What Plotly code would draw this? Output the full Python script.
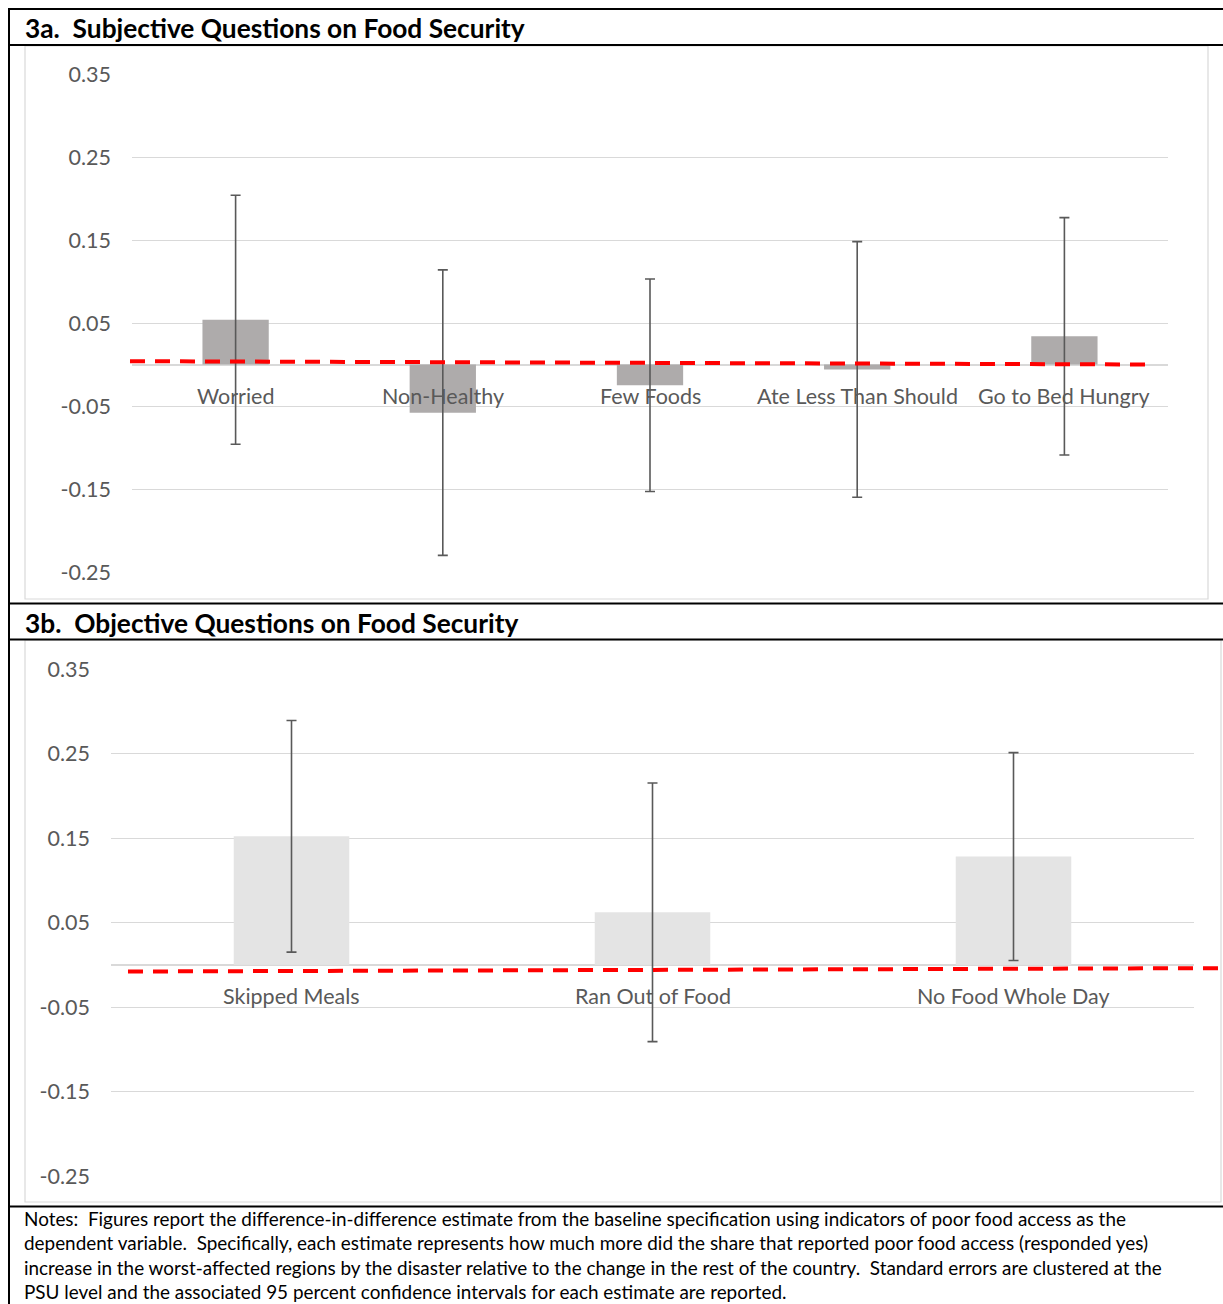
import plotly.graph_objects as go

W, H = 1223, 1304

# ---------------- data ----------------
cats_a = ["Worried", "Non-Healthy", "Few Foods", "Ate Less Than Should", "Go to Bed Hungry"]
est_a = [0.054, -0.058, -0.025, -0.006, 0.034]
ci_a = [0.150, 0.172, 0.128, 0.154, 0.143]

cats_b = ["Skipped Meals", "Ran Out of Food", "No Food Whole Day"]
est_b = [0.152, 0.062, 0.128]
ci_b = [0.137, 0.153, 0.123]

y_ticks = [-0.25, -0.15, -0.05, 0.05, 0.15, 0.25, 0.35]
y_ticktext = ["-0.25", "-0.15", "-0.05", "0.05", "0.15", "0.25", "0.35"]
y_range = [-0.25, 0.35]

# red dashed reference line (start/end values on the y scale)
ref_a = [0.004, 0.0]
ref_b = [-0.008, -0.004]

title_a = "3a.  Subjective Questions on Food Security"
title_b = "3b.  Objective Questions on Food Security"
notes_lines = [
    "Notes:  Figures report the difference-in-difference estimate from the baseline specification using indicators of poor food access as the",
    "dependent variable.  Specifically, each estimate represents how much more did the share that reported poor food access (responded yes)",
    "increase in the worst-affected regions by the disaster relative to the change in the rest of the country.  Standard errors are clustered at the",
    "PSU level and the associated 95 percent confidence intervals for each estimate are reported.",
]

# ---------------- helpers ----------------
def px(x):
    return x / W


def py(y):
    return 1 - y / H


FONT = "Lato"
GREY_TXT = "#595959"
GRID = "#D9D9D9"

# plot areas in pixels (left, right, top, bottom)
PA = (132, 1168, 74, 572)
PB = (111, 1194, 669, 1176)

fig = go.Figure()

fig.add_trace(go.Bar(
    x=cats_a, y=est_a, width=0.32,
    marker=dict(color="#AEABAB", line=dict(width=0)),
    error_y=dict(type="data", array=ci_a, visible=True, color="#595959", thickness=1.6, width=5),
    xaxis="x", yaxis="y", showlegend=False, hoverinfo="skip",
))
fig.add_trace(go.Bar(
    x=cats_b, y=est_b, width=0.32,
    marker=dict(color="#E4E4E4", line=dict(width=0)),
    error_y=dict(type="data", array=ci_b, visible=True, color="#595959", thickness=1.6, width=5),
    xaxis="x2", yaxis="y2", showlegend=False, hoverinfo="skip",
))

yaxis_common = dict(
    range=y_range, tickvals=y_ticks, ticktext=y_ticktext,
    showgrid=True, gridcolor=GRID, gridwidth=1.4,
    zeroline=True, zerolinecolor=GRID, zerolinewidth=1.6,
    showline=False, ticks="", ticklabelstandoff=20, automargin=False,
    tickfont=dict(family=FONT, size=21.5, color=GREY_TXT), fixedrange=True,
)
xaxis_common = dict(showticklabels=False, showgrid=False, zeroline=False, showline=False, ticks="",
                    automargin=False, fixedrange=True)

fig.update_layout(
    width=W, height=H,
    margin=dict(l=0, r=0, t=0, b=0, autoexpand=False),
    paper_bgcolor="white", plot_bgcolor="white",
    bargap=0.68,
    xaxis=dict(domain=[px(PA[0]), px(PA[1])], anchor="y", range=[-0.5, len(cats_a) - 0.5], **xaxis_common),
    yaxis=dict(domain=[py(PA[3]), py(PA[2])], anchor="x", **yaxis_common),
    xaxis2=dict(domain=[px(PB[0]), px(PB[1])], anchor="y2", range=[-0.5, len(cats_b) - 0.5], **xaxis_common),
    yaxis2=dict(domain=[py(PB[3]), py(PB[2])], anchor="x2", **yaxis_common),
)

annotations = []
# category labels just below the zero line
for c in cats_a:
    annotations.append(dict(x=c, y=0, xref="x", yref="y", text=c, showarrow=False,
                            yanchor="middle", yshift=-31,
                            font=dict(family=FONT, size=21.5, color=GREY_TXT)))
for c in cats_b:
    annotations.append(dict(x=c, y=0, xref="x2", yref="y2", text=c, showarrow=False,
                            yanchor="middle", yshift=-31,
                            font=dict(family=FONT, size=21.5, color=GREY_TXT)))

# panel titles
annotations.append(dict(x=px(23), y=py(28), xref="paper", yref="paper", text="<b>" + title_a + "</b>",
                        showarrow=False, xanchor="left", yanchor="middle",
                        font=dict(family=FONT, size=26.3, color="black")))
annotations.append(dict(x=px(23), y=py(623), xref="paper", yref="paper", text="<b>" + title_b + "</b>",
                        showarrow=False, xanchor="left", yanchor="middle",
                        font=dict(family=FONT, size=26.3, color="black")))

# notes
for i, line in enumerate(notes_lines):
    annotations.append(dict(x=px(22), y=py(1218 + 24.6 * i), xref="paper", yref="paper", text=line,
                            showarrow=False, xanchor="left", yanchor="middle",
                            font=dict(family=FONT, size=18.9, color="black")))

fig.update_layout(annotations=annotations)

shapes = []
# chart-area borders
for (l, r, t, b) in [(25, 1208, 46, 599), (25, 1221, 640, 1202)]:
    shapes.append(dict(type="rect", xref="paper", yref="paper", x0=px(l), x1=px(r), y0=py(b), y1=py(t),
                       line=dict(color=GRID, width=1.2), fillcolor="rgba(0,0,0,0)", layer="below"))

# table lines (black)
for yy in [9, 45, 603.5, 639.5, 1206.5]:
    shapes.append(dict(type="line", xref="paper", yref="paper", x0=px(8), x1=1, y0=py(yy), y1=py(yy),
                       line=dict(color="black", width=2)))
shapes.append(dict(type="line", xref="paper", yref="paper", x0=px(9), x1=px(9), y0=py(8), y1=0,
                   line=dict(color="black", width=2)))


# red dashed lines
def val_to_py(v, area):
    l, r, t, b = area
    return py(b - (v - y_range[0]) / (y_range[1] - y_range[0]) * (b - t))


shapes.append(dict(type="line", xref="paper", yref="paper",
                   x0=px(130), x1=px(1153), y0=val_to_py(ref_a[0], PA), y1=val_to_py(ref_a[1], PA),
                   line=dict(color="#FF0000", width=4, dash="15px,10px")))
shapes.append(dict(type="line", xref="paper", yref="paper",
                   x0=px(128), x1=px(1218), y0=val_to_py(ref_b[0], PB), y1=val_to_py(ref_b[1], PB),
                   line=dict(color="#FF0000", width=4, dash="15px,10px")))

fig.update_layout(shapes=shapes)

fig.write_html("out.html")
